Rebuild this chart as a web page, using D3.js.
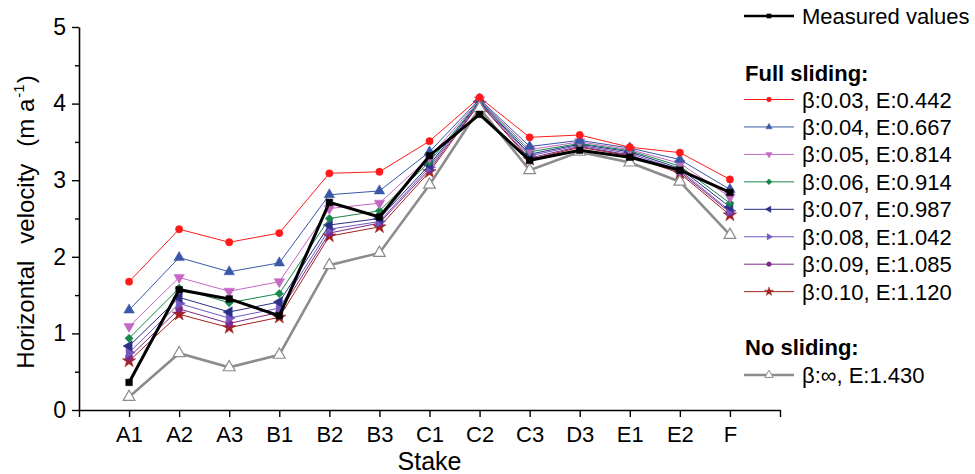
<!DOCTYPE html>
<html>
<head>
<meta charset="utf-8">
<script src="https://cdn.jsdelivr.net/npm/d3@7"></script>
<style>
  html, body { margin: 0; padding: 0; background: #fff; }
  svg { display: block; font-family: "Liberation Sans", Arial, sans-serif; }
</style>
</head>
<body>
<svg id="chart" width="975" height="474"></svg>
<script>
// ---------- data ----------
const categories = ["A1","A2","A3","B1","B2","B3","C1","C2","C3","D3","E1","E2","F"];
const yTicks = [0, 1, 2, 3, 4, 5];

const measured   = [0.36, 1.57, 1.45, 1.23, 2.71, 2.52, 3.32, 3.86, 3.26, 3.39, 3.30, 3.13, 2.84];
const b003       = [1.675, 2.36, 2.19, 2.31, 3.09, 3.11, 3.51, 4.08, 3.56, 3.59, 3.43, 3.36, 3.01];
const b004       = [1.305, 1.99, 1.805, 1.92, 2.81, 2.86, 3.37, 4.06, 3.44, 3.52, 3.42, 3.27, 2.88];
const b005       = [1.09, 1.73, 1.55, 1.675, 2.63, 2.70, 3.30, 4.05, 3.40, 3.50, 3.40, 3.22, 2.78];
const b006       = [0.936, 1.59, 1.40, 1.52, 2.50, 2.60, 3.24, 4.04, 3.37, 3.48, 3.385, 3.185, 2.70];
const b007       = [0.835, 1.47, 1.28, 1.41, 2.415, 2.50, 3.20, 4.03, 3.34, 3.47, 3.37, 3.155, 2.65];
const b008       = [0.75, 1.39, 1.20, 1.33, 2.36, 2.46, 3.17, 4.02, 3.32, 3.455, 3.35, 3.13, 2.60];
const b009       = [0.69, 1.32, 1.13, 1.275, 2.31, 2.44, 3.14, 4.01, 3.29, 3.44, 3.33, 3.11, 2.58];
const b010       = [0.64, 1.25, 1.075, 1.21, 2.27, 2.39, 3.11, 4.00, 3.27, 3.43, 3.32, 3.09, 2.545];
const noSliding  = [0.17, 0.74, 0.557, 0.72, 1.89, 2.05, 2.94, 3.94, 3.13, 3.37, 3.23, 2.98, 2.285];

const fullLabels = ["β:0.03, E:0.442","β:0.04, E:0.667","β:0.05, E:0.814","β:0.06, E:0.914",
                    "β:0.07, E:0.987","β:0.08, E:1.042","β:0.09, E:1.085","β:0.10, E:1.120"];
const noLabel = "β:∞, E:1.430";
const measuredLabel = "Measured values";

// ---------- styling ----------
const fullSeries = [b003, b004, b005, b006, b007, b008, b009, b010];
const fullColors = ["#ff1a1a", "#3a58a8", "#c468c4", "#16884a", "#2c2f86", "#7258c0", "#7d2a88", "#a3201f"];
const fullShapes = ["circle", "triUp", "triDown", "diamond", "triLeft", "triRight", "circle", "star"];

const svg = d3.select("#chart");
const x = d3.scaleLinear().domain([0, categories.length + 1]).range([79, 780]);
const y = d3.scaleLinear().domain([0, 5]).range([410, 27]);

function symbolPath(shape, size) {
  let type = d3.symbolCircle, rot = 0;
  if (shape === "triUp") type = d3.symbolTriangle;
  if (shape === "triDown") { type = d3.symbolTriangle; rot = 180; }
  if (shape === "triLeft") { type = d3.symbolTriangle; rot = -90; }
  if (shape === "triRight") { type = d3.symbolTriangle; rot = 90; }
  if (shape === "diamond") { type = d3.symbolSquare; rot = 45; }
  if (shape === "star") type = d3.symbolStar;
  if (shape === "square") type = d3.symbolSquare;
  return { d: d3.symbol().type(type).size(size)(), rot };
}

const line = d3.line().x((d, i) => x(i + 1)).y(d => y(d));

function drawSeries(vals, color, width, shape, size, fill) {
  const g = svg.append("g");
  g.append("path").attr("d", line(vals)).attr("fill", "none")
    .attr("stroke", color).attr("stroke-width", width).attr("stroke-linejoin", "miter");
  const s = symbolPath(shape, size);
  g.selectAll("path.m").data(vals).join("path").attr("class", "m")
    .attr("d", s.d)
    .attr("transform", (d, i) => `translate(${x(i + 1)},${y(d)}) rotate(${s.rot})`)
    .attr("fill", fill || color)
    .attr("stroke", color).attr("stroke-width", fill ? 1.2 : 0.5);
}

// ---------- axes ----------
const xAxis = d3.axisBottom(x)
  .tickValues(d3.range(0, categories.length + 2))
  .tickFormat(i => (i >= 1 && i <= categories.length) ? categories[i - 1] : "")
  .tickSize(7).tickSizeOuter(0);
const gx = svg.append("g").attr("transform", "translate(0,410)").call(xAxis);
gx.select(".domain").attr("stroke-width", 1.6);
gx.selectAll(".tick line").attr("stroke-width", 1.4);
gx.selectAll(".tick text").attr("font-size", 22).attr("dy", "0").attr("y", 32)
  .attr("font-family", "Liberation Sans, Arial, sans-serif").attr("fill", "#000");

const yMinor = d3.axisLeft(y).tickValues(d3.range(0.5, 5, 1)).tickSize(4).tickFormat("").tickSizeOuter(0);
const gym = svg.append("g").attr("transform", "translate(79,0)").call(yMinor);
gym.select(".domain").remove();
gym.selectAll(".tick line").attr("stroke-width", 1.4);

const yAxis = d3.axisLeft(y).tickValues(yTicks).tickFormat(d3.format("d"))
  .tickSize(7).tickSizeOuter(0).tickPadding(6);
const gy = svg.append("g").attr("transform", "translate(79,0)").call(yAxis);
gy.select(".domain").attr("stroke-width", 1.6);
gy.selectAll(".tick line").attr("stroke-width", 1.4);
gy.selectAll(".tick text").attr("font-size", 23)
  .attr("font-family", "Liberation Sans, Arial, sans-serif").attr("fill", "#000");

// axis titles
svg.append("text").attr("x", x(7)).attr("y", 470).attr("text-anchor", "middle")
  .attr("font-size", 25).text("Stake");

const yt = svg.append("text").attr("transform", "translate(34,222) rotate(-90)")
  .attr("text-anchor", "middle").attr("font-size", 24);
yt.append("tspan").text("Horizontal");
yt.append("tspan").attr("dx", 17).text("velocity");
yt.append("tspan").attr("dx", 17).text("(m\u00a0a");
yt.append("tspan").attr("font-size", 15).attr("dy", -10).attr("dx", 1).text("-1");
yt.append("tspan").attr("dy", 10).attr("dx", 1).text(")");

// ---------- series ----------
for (let k = fullSeries.length - 1; k >= 0; k--) {
  const shp = fullShapes[k];
  const sz = shp === "circle" ? 42 : shp === "star" ? 56 : shp === "diamond" ? 34 : 48;
  drawSeries(fullSeries[k], fullColors[k], 1, shp, sz);
}
drawSeries(noSliding, "#8c8c8c", 2.6, "triUp", 60, "#ffffff");
drawSeries(measured, "#000000", 3, "square", 44);

// ---------- legend ----------
const lg = svg.append("g");
function legendRow(yy, color, width, shape, size, label, fill) {
  lg.append("line").attr("x1", 744).attr("x2", 794).attr("y1", yy).attr("y2", yy)
    .attr("stroke", color).attr("stroke-width", width);
  const s = symbolPath(shape, size);
  lg.append("path").attr("d", s.d).attr("transform", `translate(769,${yy}) rotate(${s.rot})`)
    .attr("fill", fill || color).attr("stroke", color).attr("stroke-width", fill ? 1 : 0.4);
  lg.append("text").attr("x", 802).attr("y", yy + 8).attr("font-size", 22).text(label);
}
legendRow(16, "#000000", 2.4, "square", 18, measuredLabel);
lg.append("text").attr("x", 745).attr("y", 81).attr("font-size", 22).attr("font-weight", "bold").text("Full sliding:");
const rowY = d3.range(fullLabels.length).map(i => 99.5 + i * 27.45);
fullLabels.forEach((lab, i) => {
  const shp = fullShapes[i];
  legendRow(rowY[i], fullColors[i], 1, shp, shp === "star" ? 26 : 18, lab);
});
lg.append("text").attr("x", 745).attr("y", 355).attr("font-size", 22).attr("font-weight", "bold").text("No sliding:");
legendRow(375, "#8c8c8c", 2.4, "triUp", 30, noLabel, "#ffffff");
</script>
</body>
</html>
